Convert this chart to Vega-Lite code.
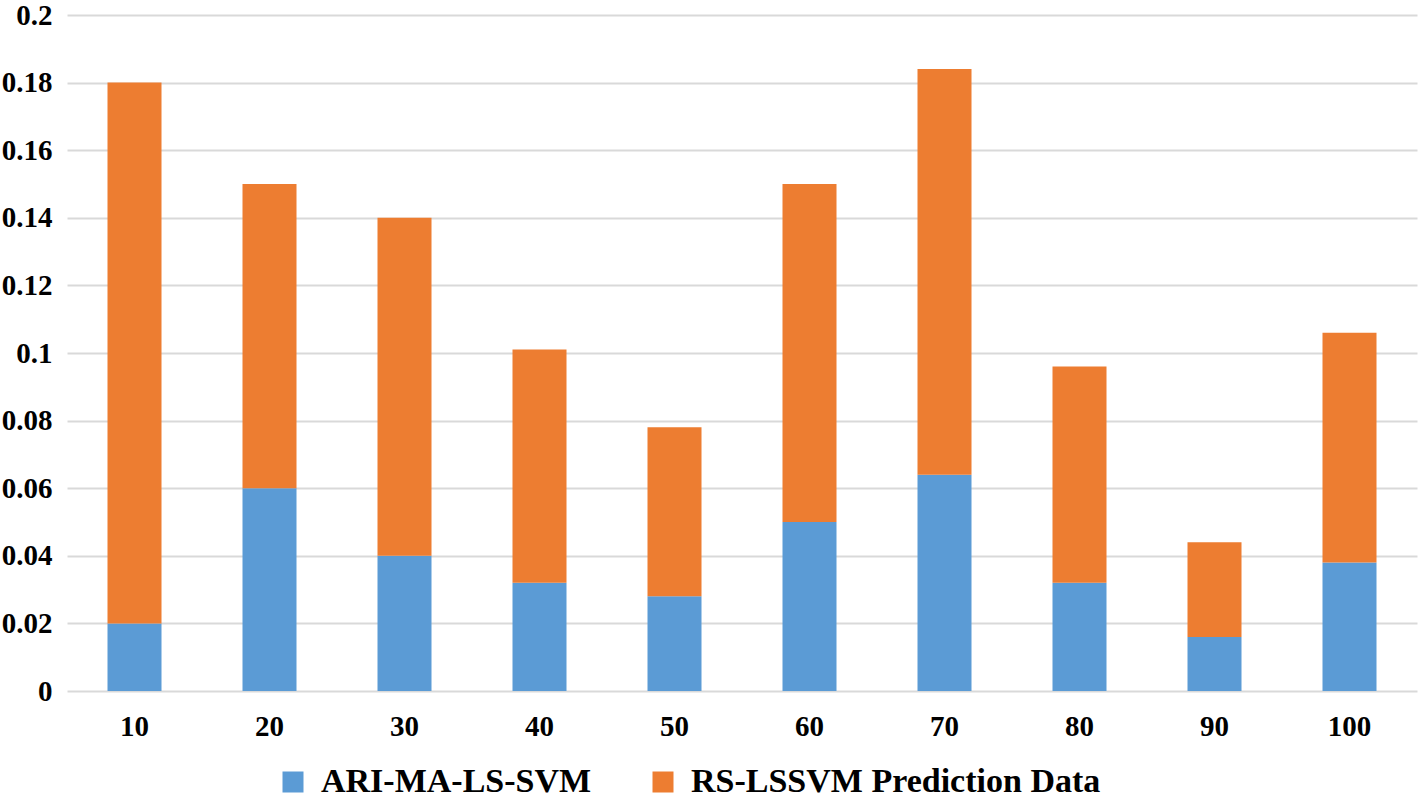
{
  "$schema": "https://vega.github.io/schema/vega-lite/v6.json",
  "autosize": "none",
  "width": 1350,
  "height": 676,
  "padding": {"left": 67, "top": 15, "right": 2, "bottom": 112},
  "background": "white",
  "config": {
    "view": {"stroke": null},
    "font": "Liberation Serif"
  },
  "data": {
    "values": [
      {"x": "10", "series": "ARI-MA-LS-SVM", "ord": 1, "value": 0.02},
      {"x": "10", "series": "RS-LSSVM Prediction Data", "ord": 2, "value": 0.16},
      {"x": "20", "series": "ARI-MA-LS-SVM", "ord": 1, "value": 0.06},
      {"x": "20", "series": "RS-LSSVM Prediction Data", "ord": 2, "value": 0.09},
      {"x": "30", "series": "ARI-MA-LS-SVM", "ord": 1, "value": 0.04},
      {"x": "30", "series": "RS-LSSVM Prediction Data", "ord": 2, "value": 0.10},
      {"x": "40", "series": "ARI-MA-LS-SVM", "ord": 1, "value": 0.032},
      {"x": "40", "series": "RS-LSSVM Prediction Data", "ord": 2, "value": 0.069},
      {"x": "50", "series": "ARI-MA-LS-SVM", "ord": 1, "value": 0.028},
      {"x": "50", "series": "RS-LSSVM Prediction Data", "ord": 2, "value": 0.05},
      {"x": "60", "series": "ARI-MA-LS-SVM", "ord": 1, "value": 0.05},
      {"x": "60", "series": "RS-LSSVM Prediction Data", "ord": 2, "value": 0.10},
      {"x": "70", "series": "ARI-MA-LS-SVM", "ord": 1, "value": 0.064},
      {"x": "70", "series": "RS-LSSVM Prediction Data", "ord": 2, "value": 0.12},
      {"x": "80", "series": "ARI-MA-LS-SVM", "ord": 1, "value": 0.032},
      {"x": "80", "series": "RS-LSSVM Prediction Data", "ord": 2, "value": 0.064},
      {"x": "90", "series": "ARI-MA-LS-SVM", "ord": 1, "value": 0.016},
      {"x": "90", "series": "RS-LSSVM Prediction Data", "ord": 2, "value": 0.028},
      {"x": "100", "series": "ARI-MA-LS-SVM", "ord": 1, "value": 0.038},
      {"x": "100", "series": "RS-LSSVM Prediction Data", "ord": 2, "value": 0.068}
    ]
  },
  "mark": {"type": "bar"},
  "encoding": {
    "x": {
      "field": "x",
      "type": "ordinal",
      "sort": null,
      "scale": {"paddingInner": 0.6, "paddingOuter": 0.3},
      "axis": {
        "title": null,
        "labelAngle": 0,
        "ticks": false,
        "domain": false,
        "labelFont": "Liberation Serif",
        "labelFontWeight": "bold",
        "labelFontSize": 29,
        "labelColor": "black",
        "labelPadding": 21
      }
    },
    "y": {
      "field": "value",
      "type": "quantitative",
      "stack": "zero",
      "scale": {"domain": [0, 0.2], "nice": false},
      "axis": {
        "title": null,
        "values": [0, 0.02, 0.04, 0.06, 0.08, 0.1, 0.12, 0.14, 0.16, 0.18, 0.2],
        "format": "~g",
        "ticks": false,
        "domain": false,
        "gridColor": "#d9d9d9",
        "gridWidth": 2,
        "labelFont": "Liberation Serif",
        "labelFontWeight": "bold",
        "labelFontSize": 29,
        "labelColor": "black",
        "labelPadding": 15
      }
    },
    "color": {
      "field": "series",
      "type": "nominal",
      "scale": {
        "domain": ["ARI-MA-LS-SVM", "RS-LSSVM Prediction Data"],
        "range": ["#5b9bd5", "#ed7d31"]
      },
      "legend": {
        "title": null,
        "orient": "none",
        "direction": "horizontal",
        "legendX": 209,
        "legendY": 750,
        "symbolType": "square",
        "symbolSize": 441,
        "symbolStrokeWidth": 0,
        "symbolOpacity": 1,
        "labelFont": "Liberation Serif",
        "labelFontWeight": "bold",
        "labelFontSize": 34,
        "labelColor": "black",
        "labelOffset": 11,
        "columnPadding": 54,
        "labelLimit": 600
      }
    },
    "order": {"field": "ord", "type": "quantitative"}
  }
}
